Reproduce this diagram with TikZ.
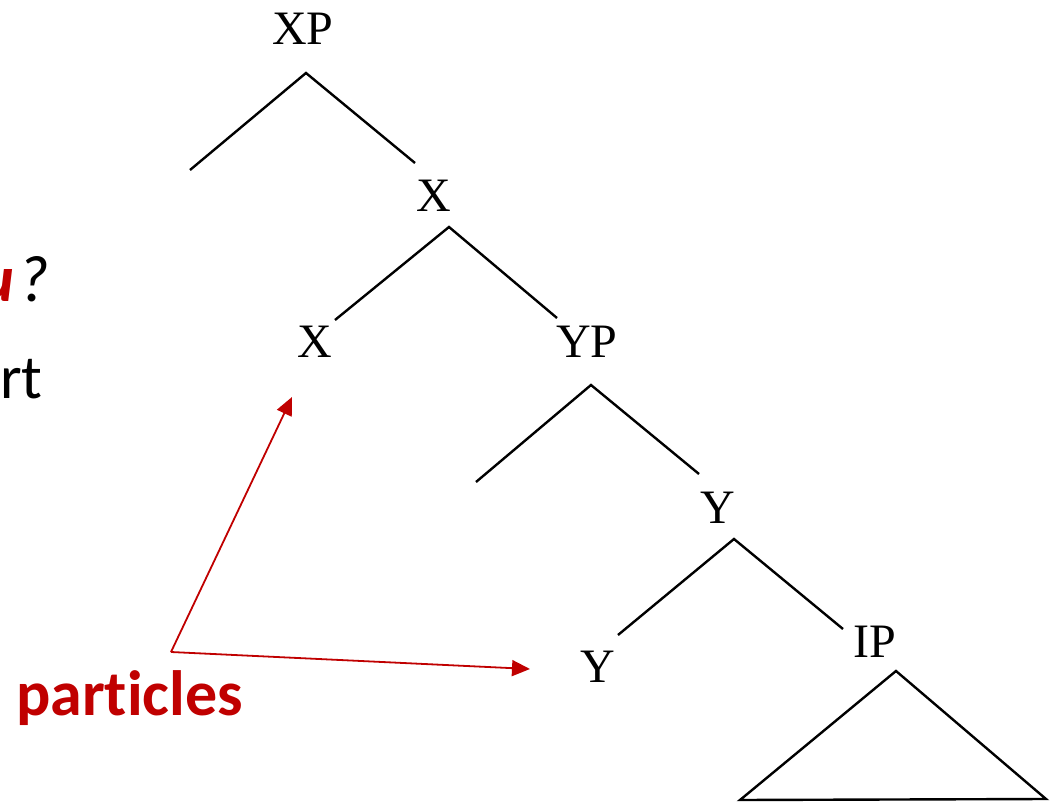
\documentclass[tikz,border=0pt]{standalone}
\usepackage{fontspec}
\setmainfont{Liberation Serif}
\newfontfamily\calibri[Ligatures=NoCommon]{Carlito}
\usepackage{tikz}
\usetikzlibrary{arrows.meta}
\definecolor{ParticleRed}{RGB}{192,0,0}

\begin{document}
\begin{tikzpicture}[x=1pt, y=-1pt,
    cat/.style={inner sep=0pt, anchor=base, font=\fontsize{48}{58}\selectfont},
    branch/.style={line width=2.4pt, black},
    pointer/.style={-{Triangle[length=18pt, width=16pt]}, line width=1.8pt, ParticleRed},
    note/.style={inner sep=0pt, anchor=base west, font=\calibri\fontsize{62}{72}\selectfont}
]
\useasboundingbox (0,0) rectangle (1055,802);
% category labels
\node[cat] (xp) at (303,45) {XP};
\node[cat] (xbar) at (434,212) {X};
\node[cat] (x0) at (315,357) {X};
\node[cat] (yp) at (587,357) {YP};
\node[cat] (ybar) at (718,523) {Y};
\node[cat] (y0) at (598,682) {Y};
\node[cat] (ip) at (875,657) {IP};
% branch ends
\coordinate (xp-top) at (306,73);
\coordinate (xp-spec) at (190,170);
\coordinate (xp-comp) at (415,163);
\coordinate (xbar-top) at (449,227);
\coordinate (xbar-head) at (335,320);
\coordinate (xbar-comp) at (557,318);
\coordinate (yp-top) at (591,385);
\coordinate (yp-spec) at (476,482);
\coordinate (yp-comp) at (699,474);
\coordinate (ybar-top) at (734,539);
\coordinate (ybar-head) at (618,635);
\coordinate (ybar-comp) at (843,629);
\coordinate (ip-top) at (896,671);
\coordinate (ip-left) at (740,800);
\coordinate (ip-right) at (1046,799);
\draw[branch] (xp-spec) -- (xp-top) -- (xp-comp);
\draw[branch] (xbar-head) -- (xbar-top) -- (xbar-comp);
\draw[branch] (yp-spec) -- (yp-top) -- (yp-comp);
\draw[branch] (ybar-head) -- (ybar-top) -- (ybar-comp);
\draw[branch] (ip-top) -- (ip-right) -- (ip-left) -- cycle;
% slide text at the left edge
\node[note, font=\calibri\fontsize{66}{76}\selectfont] (question) at (-21,302) {\itshape{\bfseries\color{ParticleRed}u}\hspace{4pt}?};
\node[note] (part) at (0,398) {rt};
\node[note, font=\calibri\bfseries\fontsize{64}{76}\selectfont, text=ParticleRed] (particles) at (16,715) {particles};
% pointers
\coordinate (src) at (171,652);
\coordinate (to-x) at (292,397);
\coordinate (to-y) at (530,669);
\draw[pointer] (src) -- (to-x);
\draw[pointer] (src) -- (to-y);
\end{tikzpicture}
\end{document}
